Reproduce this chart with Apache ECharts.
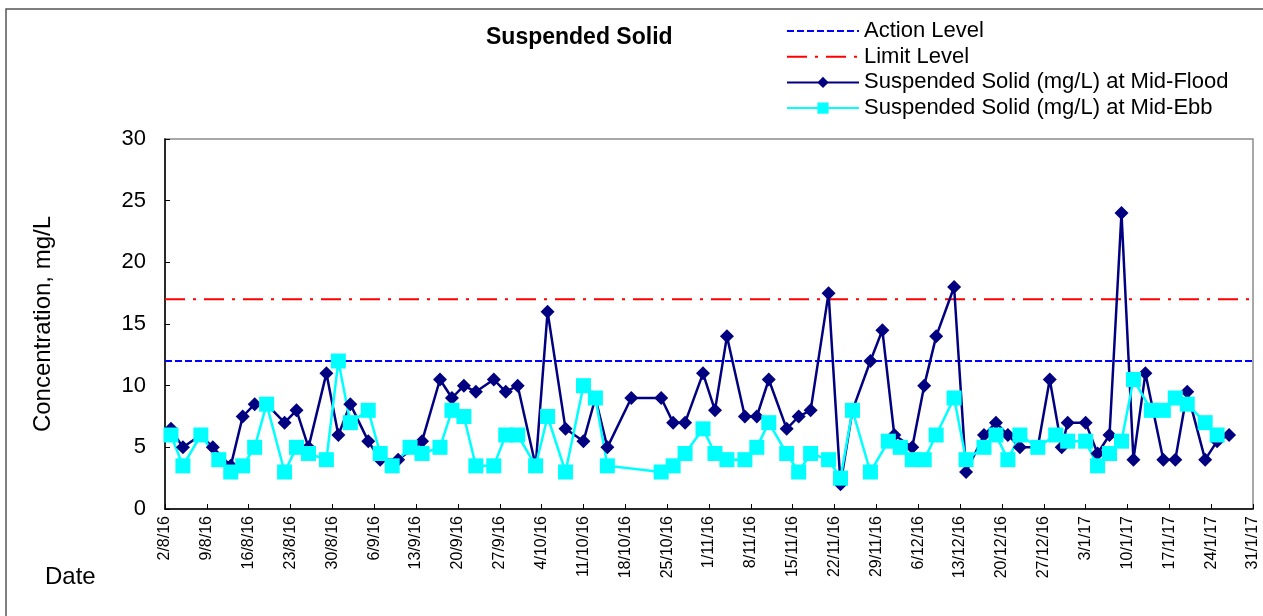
<!DOCTYPE html>
<html>
<head>
<meta charset="utf-8">
<script src="https://cdn.jsdelivr.net/npm/echarts@6/dist/echarts.min.js"></script>
<style>
  html, body { margin: 0; padding: 0; background: #fff; }
  #chart { width: 1263px; height: 616px; }
</style>
</head>
<body>
<div id="chart"></div>
<script>
const startDate = '2016-08-02';
const endDate = '2017-01-31';
const actionLevel = 12;
const limitLevel = 17;
const yTicks = [0, 5, 10, 15, 20, 25, 30];

const floodDates = [
  '2016-08-03', '2016-08-05', '2016-08-08', '2016-08-10', '2016-08-13', '2016-08-15', '2016-08-17', '2016-08-19',
  '2016-08-22', '2016-08-24', '2016-08-26', '2016-08-29', '2016-08-31', '2016-09-02', '2016-09-05', '2016-09-07',
  '2016-09-10', '2016-09-14', '2016-09-17', '2016-09-19', '2016-09-21', '2016-09-23', '2016-09-26', '2016-09-28',
  '2016-09-30', '2016-10-03', '2016-10-05', '2016-10-08', '2016-10-11', '2016-10-13', '2016-10-15', '2016-10-19',
  '2016-10-24', '2016-10-26', '2016-10-28', '2016-10-31', '2016-11-02', '2016-11-04', '2016-11-07', '2016-11-09',
  '2016-11-11', '2016-11-14', '2016-11-16', '2016-11-18', '2016-11-21', '2016-11-23', '2016-11-25', '2016-11-28',
  '2016-11-30', '2016-12-02', '2016-12-05', '2016-12-07', '2016-12-09', '2016-12-12', '2016-12-14', '2016-12-17',
  '2016-12-19', '2016-12-21', '2016-12-23', '2016-12-26', '2016-12-28', '2016-12-30', '2016-12-31', '2017-01-03',
  '2017-01-05', '2017-01-07', '2017-01-09', '2017-01-11', '2017-01-13', '2017-01-16', '2017-01-18', '2017-01-20',
  '2017-01-23', '2017-01-25', '2017-01-27'
];
const floodValues = [
  6.5, 5, 6, 5, 3.5, 7.5, 8.5, 8.5,
  7, 8, 5, 11, 6, 8.5, 5.5, 4,
  4, 5.5, 10.5, 9, 10, 9.5, 10.5, 9.5,
  10, 3.5, 16, 6.5, 5.5, 9, 5, 9,
  9, 7, 7, 11, 8, 14, 7.5, 7.5,
  10.5, 6.5, 7.5, 8, 17.5, 2, 8, 12,
  14.5, 6, 5, 10, 14, 18, 3, 6,
  7, 6, 5, 5, 10.5, 5, 7, 7,
  4.5, 6, 24, 4, 11, 4, 4, 9.5,
  4, 5.5, 6
];

const ebbDates = [
  '2016-08-03', '2016-08-05', '2016-08-08', '2016-08-11', '2016-08-13', '2016-08-15', '2016-08-17', '2016-08-19',
  '2016-08-22', '2016-08-24', '2016-08-26', '2016-08-29', '2016-08-31', '2016-09-02', '2016-09-05', '2016-09-07',
  '2016-09-09', '2016-09-12', '2016-09-14', '2016-09-17', '2016-09-19', '2016-09-21', '2016-09-23', '2016-09-26',
  '2016-09-28', '2016-09-30', '2016-10-03', '2016-10-05', '2016-10-08', '2016-10-11', '2016-10-13', '2016-10-15',
  '2016-10-24', '2016-10-26', '2016-10-28', '2016-10-31', '2016-11-02', '2016-11-04', '2016-11-07', '2016-11-09',
  '2016-11-11', '2016-11-14', '2016-11-16', '2016-11-18', '2016-11-21', '2016-11-23', '2016-11-25', '2016-11-28',
  '2016-12-01', '2016-12-03', '2016-12-05', '2016-12-07', '2016-12-09', '2016-12-12', '2016-12-14', '2016-12-17',
  '2016-12-19', '2016-12-21', '2016-12-23', '2016-12-26', '2016-12-29', '2016-12-31', '2017-01-03', '2017-01-05',
  '2017-01-07', '2017-01-09', '2017-01-11', '2017-01-14', '2017-01-16', '2017-01-18', '2017-01-20', '2017-01-23',
  '2017-01-25'
];
const ebbValues = [
  6, 3.5, 6, 4, 3, 3.5, 5, 8.5,
  3, 5, 4.5, 4, 12, 7, 8, 4.5,
  3.5, 5, 4.5, 5, 8, 7.5, 3.5, 3.5,
  6, 6, 3.5, 7.5, 3, 10, 9, 3.5,
  3, 3.5, 4.5, 6.5, 4.5, 4, 4, 5,
  7, 4.5, 3, 4.5, 4, 2.5, 8, 3,
  5.5, 5, 4, 4, 6, 9, 4, 5,
  6, 4, 6, 5, 6, 5.5, 5.5, 3.5,
  4.5, 5.5, 10.5, 8, 8, 9, 8.5, 7,
  6
];

const DAY = 86400000;
const t0 = Date.parse(startDate);
const dayOf = s => (Date.parse(s) - t0) / DAY;
const lastDay = dayOf(endDate);

const fontFamily = '"Liberation Sans", Arial, sans-serif';

const chart = echarts.init(document.getElementById('chart'));

const options = {
  animation: false,
  title: {
    text: 'Suspended Solid',
    left: 486,
    top: 26,
    padding: 0,
    textStyle: { fontFamily, fontSize: 23, fontWeight: 'bold', color: '#000' }
  },
  legend: {
    orient: 'vertical',
    left: 786,
    top: 20,
    padding: 0,
    itemWidth: 72,
    itemHeight: 14,
    itemGap: 3.7,
    data: ['Action Level', 'Limit Level', 'Suspended Solid (mg/L) at Mid-Flood', 'Suspended Solid (mg/L) at Mid-Ebb'],
    textStyle: { fontFamily, fontSize: 22, color: '#000', lineHeight: 22 }
  },
  grid: {
    left: 165,
    right: 10,
    top: 139,
    bottom: 107,
    show: true,
    borderColor: '#8c8c8c',
    borderWidth: 1.5
  },
  xAxis: {
    type: 'value',
    min: 0,
    max: lastDay,
    interval: 7,
    axisLine: { lineStyle: { color: '#000', width: 1.5 } },
    axisTick: { inside: true, length: 5, lineStyle: { color: '#000' } },
    splitLine: { show: false },
    axisLabel: {
      rotate: 90,
      margin: 7,
      fontFamily,
      fontSize: 16,
      color: '#000',
      formatter: v => {
        const d = new Date(t0 + v * DAY);
        return d.getUTCDate() + '/' + (d.getUTCMonth() + 1) + '/' + String(d.getUTCFullYear()).slice(2);
      }
    }
  },
  yAxis: {
    type: 'value',
    min: yTicks[0],
    max: yTicks[yTicks.length - 1],
    interval: yTicks[1] - yTicks[0],
    name: 'Concentration, mg/L',
    nameLocation: 'middle',
    nameGap: 110,
    nameTextStyle: { fontFamily, fontSize: 24, color: '#000' },
    axisLine: { show: true, lineStyle: { color: '#000', width: 1.5 } },
    axisTick: { show: true, inside: true, length: 5, lineStyle: { color: '#000' } },
    splitLine: { show: false },
    axisLabel: { margin: 19, fontFamily, fontSize: 22, color: '#000' }
  },
  graphic: [
    {
      type: 'rect',
      shape: { x: 6, y: 9, width: 1400, height: 800 },
      style: { fill: 'none', stroke: '#555', lineWidth: 1.5 },
      silent: true
    },
    {
      type: 'text',
      left: 45,
      top: 565,
      style: { text: 'Date', font: '24px ' + fontFamily, fill: '#000' }
    }
  ],
  series: [
    {
      name: 'Action Level',
      type: 'line',
      symbol: 'none',
      data: [[0, actionLevel], [lastDay, actionLevel]],
      lineStyle: { color: '#0000ff', width: 2, type: [7, 3] },
      itemStyle: { color: 'rgba(0,0,0,0)' }
    },
    {
      name: 'Limit Level',
      type: 'line',
      symbol: 'none',
      data: [[0, limitLevel], [lastDay, limitLevel]],
      lineStyle: { color: '#ff0000', width: 2, type: [20, 8, 3, 8] },
      itemStyle: { color: 'rgba(0,0,0,0)' }
    },
    {
      name: 'Suspended Solid (mg/L) at Mid-Flood',
      type: 'line',
      symbol: 'diamond',
      symbolSize: 14,
      showSymbol: true,
      data: floodDates.map((d, i) => [dayOf(d), floodValues[i]]),
      lineStyle: { color: '#000080', width: 2.5 },
      itemStyle: { color: '#000080' }
    },
    {
      name: 'Suspended Solid (mg/L) at Mid-Ebb',
      type: 'line',
      symbol: 'rect',
      symbolSize: 15,
      showSymbol: true,
      data: ebbDates.map((d, i) => [dayOf(d), ebbValues[i]]),
      lineStyle: { color: '#00ffff', width: 2.5 },
      itemStyle: { color: '#00ffff' }
    }
  ]
};

chart.setOption(options);
</script>
</body>
</html>
